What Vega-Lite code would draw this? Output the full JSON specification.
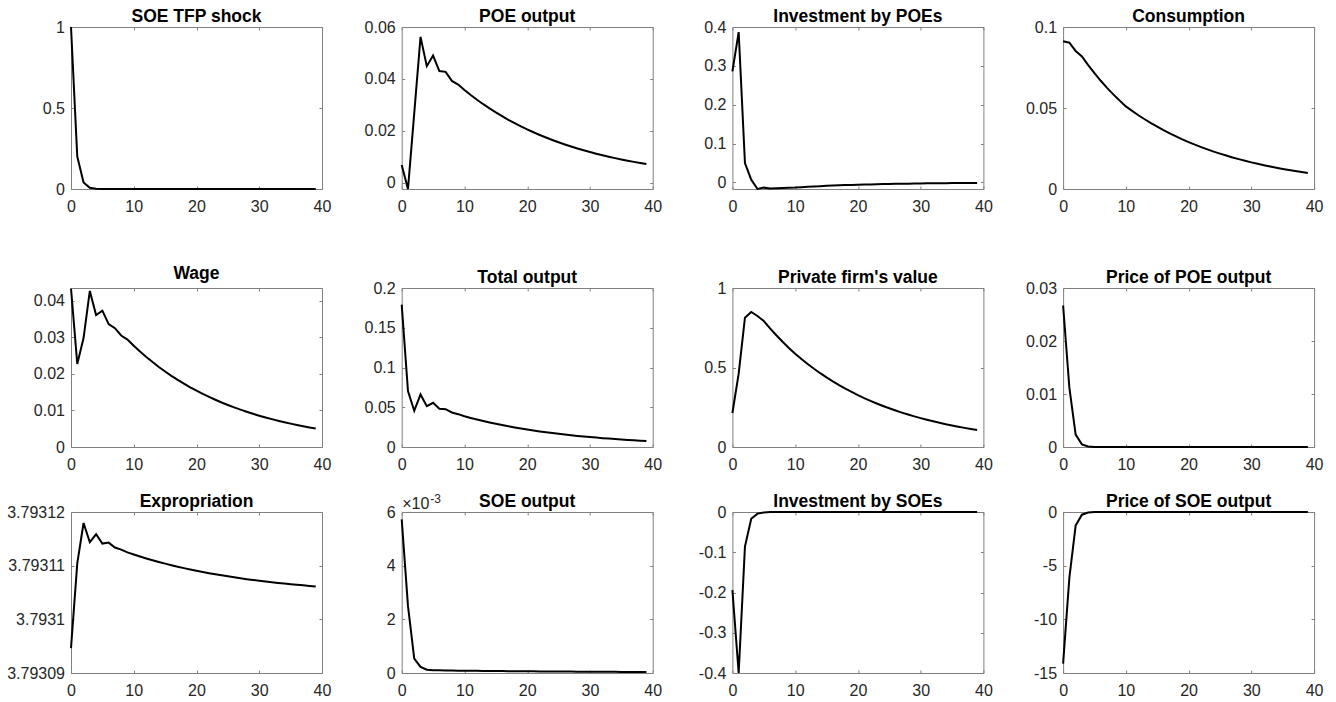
{
"$schema": "https://vega.github.io/schema/vega-lite/v6.json",
"padding": {"left": 6, "top": 7, "right": 5, "bottom": 2},
"background": "white",
"config": {
  "view": {"stroke": "#808080", "strokeWidth": 1},
  "axis": {"domain": false, "domainColor": "#808080", "domainWidth": 1, "grid": false, "tickSize": -3, "tickColor": "#808080", "tickWidth": 1, "labelFont": "Liberation Sans", "labelFontSize": 16, "labelColor": "#262626", "labelFlush": false, "labelOverlap": false},
  "axisX": {"labelPadding": 12},
  "axisY": {"labelPadding": 9.5},
  "title": {"font": "Liberation Sans", "fontSize": 17.5, "fontWeight": "bold", "color": "black", "anchor": "middle", "frame": "group", "offset": -6, "baseline": "alphabetic"},
  "line": {"color": "black", "strokeWidth": 2, "clip": true}
},
"data": {"values": [
{"t":0,"tfp":1,"poe":0.0068,"ipoe":0.286,"cons":0.0912,"wage":0.04336,"yout":0.179,"val":0.214,"ppoe":0.0267,"expr":3.79309464,"soe":0.005725,"isoe":-0.194,"psoe":-14.12},
{"t":1,"tfp":0.2,"poe":-0.0025,"ipoe":0.387,"cons":0.0903,"wage":0.02273,"yout":0.0703,"val":0.461,"ppoe":0.0112,"expr":3.79311041,"soe":0.0025,"isoe":-0.4,"psoe":-6.12},
{"t":2,"tfp":0.04,"poe":0.0268,"ipoe":0.0497,"cons":0.0852,"wage":0.0298,"yout":0.0455,"val":0.813,"ppoe":0.00234,"expr":3.79311795,"soe":0.00054,"isoe":-0.086,"psoe":-1.26},
{"t":3,"tfp":0.008,"poe":0.0562,"ipoe":0.007,"cons":0.0818,"wage":0.0427,"yout":0.0661,"val":0.849,"ppoe":0.0005,"expr":3.79311437,"soe":0.000225,"isoe":-0.017,"psoe":-0.25},
{"t":4,"tfp":0.0016,"poe":0.0449,"ipoe":-0.017,"cons":0.0765,"wage":0.0361,"yout":0.0514,"val":0.824,"ppoe":0.0001,"expr":3.79311585,"soe":0.000125,"isoe":-0.004,"psoe":-0.05},
{"t":5,"tfp":0.00032,"poe":0.049,"ipoe":-0.0135,"cons":0.0715,"wage":0.0373,"yout":0.0556,"val":0.792,"ppoe":0.00002,"expr":3.79311412,"soe":0.000105,"isoe":-0.001,"psoe":-0.01},
{"t":6,"tfp":0.000064,"poe":0.043,"ipoe":-0.016,"cons":0.0668,"wage":0.0336,"yout":0.048,"val":0.746,"ppoe":0.000004,"expr":3.7931143,"soe":0.000098,"isoe":-0.0003,"psoe":-0.002},
{"t":7,"tfp":0.0000128,"poe":0.0427,"ipoe":-0.0148,"cons":0.0624,"wage":0.0325,"yout":0.0476,"val":0.703,"ppoe":0.000001,"expr":3.79311338,"soe":0.000094,"isoe":-0.0001,"psoe":-0.0004},
{"t":8,"tfp":0.0000026,"poe":0.0392,"ipoe":-0.0142,"cons":0.0584,"wage":0.0305,"yout":0.0434,"val":0.662,"ppoe":0,"expr":3.793113,"soe":0.00009,"isoe":0,"psoe":0},
{"t":9,"tfp":0.0000005,"poe":0.0378,"ipoe":-0.0137,"cons":0.0546,"wage":0.0294,"yout":0.0413,"val":0.623,"ppoe":0,"expr":3.79311247,"soe":0.000087,"isoe":0,"psoe":0},
{"t":10,"tfp":0,"poe":0.0357,"ipoe":-0.0132,"cons":0.051,"wage":0.0277,"yout":0.0387,"val":0.587,"ppoe":0,"expr":3.79311208,"soe":0.000084,"isoe":0,"psoe":0},
{"t":11,"tfp":0,"poe":0.03377,"ipoe":-0.0122,"cons":0.0482,"wage":0.02612,"yout":0.03657,"val":0.5535,"ppoe":0,"expr":3.79311171,"soe":0.0000817,"isoe":0,"psoe":0},
{"t":12,"tfp":0,"poe":0.03195,"ipoe":-0.01127,"cons":0.04554,"wage":0.02463,"yout":0.03456,"val":0.5219,"ppoe":0,"expr":3.79311135,"soe":0.0000795,"isoe":0,"psoe":0},
{"t":13,"tfp":0,"poe":0.03022,"ipoe":-0.01041,"cons":0.04304,"wage":0.02323,"yout":0.03266,"val":0.4922,"ppoe":0,"expr":3.79311101,"soe":0.0000773,"isoe":0,"psoe":0},
{"t":14,"tfp":0,"poe":0.02859,"ipoe":-0.00962,"cons":0.04067,"wage":0.0219,"yout":0.03086,"val":0.4642,"ppoe":0,"expr":3.79311069,"soe":0.0000752,"isoe":0,"psoe":0},
{"t":15,"tfp":0,"poe":0.02705,"ipoe":-0.00889,"cons":0.03844,"wage":0.02066,"yout":0.02917,"val":0.4377,"ppoe":0,"expr":3.79311038,"soe":0.0000731,"isoe":0,"psoe":0},
{"t":16,"tfp":0,"poe":0.02559,"ipoe":-0.00821,"cons":0.03632,"wage":0.01948,"yout":0.02756,"val":0.4128,"ppoe":0,"expr":3.79311009,"soe":0.0000711,"isoe":0,"psoe":0},
{"t":17,"tfp":0,"poe":0.0242,"ipoe":-0.00759,"cons":0.03432,"wage":0.01837,"yout":0.02605,"val":0.3892,"ppoe":0,"expr":3.79310981,"soe":0.0000692,"isoe":0,"psoe":0},
{"t":18,"tfp":0,"poe":0.0229,"ipoe":-0.00701,"cons":0.03244,"wage":0.01732,"yout":0.02462,"val":0.3671,"ppoe":0,"expr":3.79310954,"soe":0.0000673,"isoe":0,"psoe":0},
{"t":19,"tfp":0,"poe":0.02166,"ipoe":-0.00648,"cons":0.03065,"wage":0.01633,"yout":0.02326,"val":0.3462,"ppoe":0,"expr":3.79310929,"soe":0.0000654,"isoe":0,"psoe":0},
{"t":20,"tfp":0,"poe":0.02049,"ipoe":-0.00599,"cons":0.02897,"wage":0.0154,"yout":0.02198,"val":0.3264,"ppoe":0,"expr":3.79310905,"soe":0.0000636,"isoe":0,"psoe":0},
{"t":21,"tfp":0,"poe":0.01939,"ipoe":-0.00553,"cons":0.02737,"wage":0.01452,"yout":0.02077,"val":0.3078,"ppoe":0,"expr":3.79310882,"soe":0.0000619,"isoe":0,"psoe":0},
{"t":22,"tfp":0,"poe":0.01834,"ipoe":-0.00511,"cons":0.02587,"wage":0.0137,"yout":0.01963,"val":0.2903,"ppoe":0,"expr":3.7931086,"soe":0.0000602,"isoe":0,"psoe":0},
{"t":23,"tfp":0,"poe":0.01735,"ipoe":-0.00472,"cons":0.02444,"wage":0.01292,"yout":0.01855,"val":0.2737,"ppoe":0,"expr":3.7931084,"soe":0.0000585,"isoe":0,"psoe":0},
{"t":24,"tfp":0,"poe":0.01641,"ipoe":-0.00436,"cons":0.0231,"wage":0.01218,"yout":0.01753,"val":0.2581,"ppoe":0,"expr":3.7931082,"soe":0.0000569,"isoe":0,"psoe":0},
{"t":25,"tfp":0,"poe":0.01552,"ipoe":-0.00403,"cons":0.02183,"wage":0.01149,"yout":0.01657,"val":0.2434,"ppoe":0,"expr":3.79310801,"soe":0.0000554,"isoe":0,"psoe":0},
{"t":26,"tfp":0,"poe":0.01469,"ipoe":-0.00372,"cons":0.02063,"wage":0.01083,"yout":0.01566,"val":0.2295,"ppoe":0,"expr":3.79310783,"soe":0.0000538,"isoe":0,"psoe":0},
{"t":27,"tfp":0,"poe":0.01389,"ipoe":-0.00344,"cons":0.01949,"wage":0.01021,"yout":0.0148,"val":0.2164,"ppoe":0,"expr":3.79310766,"soe":0.0000524,"isoe":0,"psoe":0},
{"t":28,"tfp":0,"poe":0.01314,"ipoe":-0.00318,"cons":0.01842,"wage":0.00963,"yout":0.01398,"val":0.2041,"ppoe":0,"expr":3.79310749,"soe":0.0000509,"isoe":0,"psoe":0},
{"t":29,"tfp":0,"poe":0.01243,"ipoe":-0.00294,"cons":0.01741,"wage":0.00908,"yout":0.01321,"val":0.1925,"ppoe":0,"expr":3.79310734,"soe":0.0000495,"isoe":0,"psoe":0},
{"t":30,"tfp":0,"poe":0.01176,"ipoe":-0.00272,"cons":0.01645,"wage":0.00856,"yout":0.01248,"val":0.1815,"ppoe":0,"expr":3.79310719,"soe":0.0000482,"isoe":0,"psoe":0},
{"t":31,"tfp":0,"poe":0.01113,"ipoe":-0.00251,"cons":0.01555,"wage":0.00808,"yout":0.0118,"val":0.1711,"ppoe":0,"expr":3.79310705,"soe":0.0000469,"isoe":0,"psoe":0},
{"t":32,"tfp":0,"poe":0.01053,"ipoe":-0.00232,"cons":0.01469,"wage":0.00762,"yout":0.01115,"val":0.1614,"ppoe":0,"expr":3.79310692,"soe":0.0000456,"isoe":0,"psoe":0},
{"t":33,"tfp":0,"poe":0.00996,"ipoe":-0.00214,"cons":0.01388,"wage":0.00718,"yout":0.01054,"val":0.1522,"ppoe":0,"expr":3.79310679,"soe":0.0000443,"isoe":0,"psoe":0},
{"t":34,"tfp":0,"poe":0.00942,"ipoe":-0.00198,"cons":0.01312,"wage":0.00677,"yout":0.00996,"val":0.1435,"ppoe":0,"expr":3.79310667,"soe":0.0000431,"isoe":0,"psoe":0},
{"t":35,"tfp":0,"poe":0.00891,"ipoe":-0.00183,"cons":0.0124,"wage":0.00639,"yout":0.00941,"val":0.1353,"ppoe":0,"expr":3.79310655,"soe":0.0000419,"isoe":0,"psoe":0},
{"t":36,"tfp":0,"poe":0.00843,"ipoe":-0.00169,"cons":0.01172,"wage":0.00602,"yout":0.00889,"val":0.1276,"ppoe":0,"expr":3.79310644,"soe":0.0000408,"isoe":0,"psoe":0},
{"t":37,"tfp":0,"poe":0.00797,"ipoe":-0.00156,"cons":0.01107,"wage":0.00568,"yout":0.0084,"val":0.1203,"ppoe":0,"expr":3.79310633,"soe":0.0000396,"isoe":0,"psoe":0},
{"t":38,"tfp":0,"poe":0.00754,"ipoe":-0.00144,"cons":0.01046,"wage":0.00536,"yout":0.00794,"val":0.1135,"ppoe":0,"expr":3.79310623,"soe":0.0000385,"isoe":0,"psoe":0},
{"t":39,"tfp":0,"poe":0.00714,"ipoe":-0.00133,"cons":0.00989,"wage":0.00505,"yout":0.0075,"val":0.107,"ppoe":0,"expr":3.79310614,"soe":0.0000375,"isoe":0,"psoe":0}
]},
"bounds": "flush",
"columns": 4,
"spacing": {"row": 65, "column": 79.7},
"concat": [
  {"width": 251, "height": 196, "title": "SOE TFP shock", "view": {"stroke": null},
   "layer": [
    {"mark": "line", "encoding": {
      "x": {"field": "t", "type": "quantitative", "scale": {"domain": [0, 40], "nice": false, "zero": false}, "axis": {"orient": "bottom", "offset": -34, "domain": true, "values": [0, 10, 20, 30, 40], "title": null}},
      "y": {"field": "tfp", "type": "quantitative", "scale": {"domain": [0, 1], "range": [162, 0], "nice": false, "zero": false}, "axis": {"orient": "left", "domain": true, "values": [0, 0.5, 1], "title": null, "labelExpr": "toString(datum.value)"}}}},
    {"mark": {"type": "line", "opacity": 0}, "encoding": {
      "x": {"field": "t", "type": "quantitative", "axis": {"orient": "top", "domain": true, "values": [0, 10, 20, 30, 40], "labels": false, "title": null}},
      "y": {"field": "tfp", "type": "quantitative", "axis": {"orient": "right", "domain": true, "values": [0, 0.5, 1], "labels": false, "title": null}}}}
   ],
   "resolve": {"axis": {"x": "independent", "y": "independent"}}},
  {"width": 251, "height": 196, "title": "POE output", "view": {"stroke": null},
   "layer": [
    {"mark": "line", "encoding": {
      "x": {"field": "t", "type": "quantitative", "scale": {"domain": [0, 40], "nice": false, "zero": false}, "axis": {"orient": "bottom", "offset": -34, "domain": true, "values": [0, 10, 20, 30, 40], "title": null}},
      "y": {"field": "poe", "type": "quantitative", "scale": {"domain": [-0.0025, 0.06], "range": [162, 0], "nice": false, "zero": false}, "axis": {"orient": "left", "domain": true, "values": [0, 0.02, 0.04, 0.06], "title": null, "labelExpr": "toString(datum.value)"}}}},
    {"mark": {"type": "line", "opacity": 0}, "encoding": {
      "x": {"field": "t", "type": "quantitative", "axis": {"orient": "top", "domain": true, "values": [0, 10, 20, 30, 40], "labels": false, "title": null}},
      "y": {"field": "poe", "type": "quantitative", "axis": {"orient": "right", "domain": true, "values": [0, 0.02, 0.04, 0.06], "labels": false, "title": null}}}}
   ],
   "resolve": {"axis": {"x": "independent", "y": "independent"}}},
  {"width": 251, "height": 196, "title": "Investment by POEs", "view": {"stroke": null},
   "layer": [
    {"mark": "line", "encoding": {
      "x": {"field": "t", "type": "quantitative", "scale": {"domain": [0, 40], "nice": false, "zero": false}, "axis": {"orient": "bottom", "offset": -34, "domain": true, "values": [0, 10, 20, 30, 40], "title": null}},
      "y": {"field": "ipoe", "type": "quantitative", "scale": {"domain": [-0.017, 0.4], "range": [162, 0], "nice": false, "zero": false}, "axis": {"orient": "left", "domain": true, "values": [0, 0.1, 0.2, 0.3, 0.4], "title": null, "labelExpr": "toString(datum.value)"}}}},
    {"mark": {"type": "line", "opacity": 0}, "encoding": {
      "x": {"field": "t", "type": "quantitative", "axis": {"orient": "top", "domain": true, "values": [0, 10, 20, 30, 40], "labels": false, "title": null}},
      "y": {"field": "ipoe", "type": "quantitative", "axis": {"orient": "right", "domain": true, "values": [0, 0.1, 0.2, 0.3, 0.4], "labels": false, "title": null}}}}
   ],
   "resolve": {"axis": {"x": "independent", "y": "independent"}}},
  {"width": 251, "height": 196, "title": "Consumption", "view": {"stroke": null},
   "layer": [
    {"mark": "line", "encoding": {
      "x": {"field": "t", "type": "quantitative", "scale": {"domain": [0, 40], "nice": false, "zero": false}, "axis": {"orient": "bottom", "offset": -34, "domain": true, "values": [0, 10, 20, 30, 40], "title": null}},
      "y": {"field": "cons", "type": "quantitative", "scale": {"domain": [0, 0.1], "range": [162, 0], "nice": false, "zero": false}, "axis": {"orient": "left", "domain": true, "values": [0, 0.05, 0.1], "title": null, "labelExpr": "toString(datum.value)"}}}},
    {"mark": {"type": "line", "opacity": 0}, "encoding": {
      "x": {"field": "t", "type": "quantitative", "axis": {"orient": "top", "domain": true, "values": [0, 10, 20, 30, 40], "labels": false, "title": null}},
      "y": {"field": "cons", "type": "quantitative", "axis": {"orient": "right", "domain": true, "values": [0, 0.05, 0.1], "labels": false, "title": null}}}}
   ],
   "resolve": {"axis": {"x": "independent", "y": "independent"}}},
  {"width": 251, "height": 159, "title": {"text": "Wage", "offset": 2},
   "layer": [
    {"mark": "line", "encoding": {
      "x": {"field": "t", "type": "quantitative", "scale": {"domain": [0, 40], "nice": false, "zero": false}, "axis": {"orient": "bottom", "values": [0, 10, 20, 30, 40], "title": null}},
      "y": {"field": "wage", "type": "quantitative", "scale": {"domain": [0, 0.0435], "nice": false, "zero": false}, "axis": {"orient": "left", "values": [0, 0.01, 0.02, 0.03, 0.04], "title": null, "labelExpr": "toString(datum.value)"}}}},
    {"mark": {"type": "line", "opacity": 0}, "encoding": {
      "x": {"field": "t", "type": "quantitative", "axis": {"orient": "top", "values": [0, 10, 20, 30, 40], "labels": false, "title": null}},
      "y": {"field": "wage", "type": "quantitative", "axis": {"orient": "right", "values": [0, 0.01, 0.02, 0.03, 0.04], "labels": false, "title": null}}}}
   ],
   "resolve": {"axis": {"x": "independent", "y": "independent"}}},
  {"width": 251, "height": 159, "title": "Total output",
   "layer": [
    {"mark": "line", "encoding": {
      "x": {"field": "t", "type": "quantitative", "scale": {"domain": [0, 40], "nice": false, "zero": false}, "axis": {"orient": "bottom", "values": [0, 10, 20, 30, 40], "title": null}},
      "y": {"field": "yout", "type": "quantitative", "scale": {"domain": [0, 0.2], "nice": false, "zero": false}, "axis": {"orient": "left", "values": [0, 0.05, 0.1, 0.15, 0.2], "title": null, "labelExpr": "toString(datum.value)"}}}},
    {"mark": {"type": "line", "opacity": 0}, "encoding": {
      "x": {"field": "t", "type": "quantitative", "axis": {"orient": "top", "values": [0, 10, 20, 30, 40], "labels": false, "title": null}},
      "y": {"field": "yout", "type": "quantitative", "axis": {"orient": "right", "values": [0, 0.05, 0.1, 0.15, 0.2], "labels": false, "title": null}}}}
   ],
   "resolve": {"axis": {"x": "independent", "y": "independent"}}},
  {"width": 251, "height": 159, "title": "Private firm's value",
   "layer": [
    {"mark": "line", "encoding": {
      "x": {"field": "t", "type": "quantitative", "scale": {"domain": [0, 40], "nice": false, "zero": false}, "axis": {"orient": "bottom", "values": [0, 10, 20, 30, 40], "title": null}},
      "y": {"field": "val", "type": "quantitative", "scale": {"domain": [0, 1], "nice": false, "zero": false}, "axis": {"orient": "left", "values": [0, 0.5, 1], "title": null, "labelExpr": "toString(datum.value)"}}}},
    {"mark": {"type": "line", "opacity": 0}, "encoding": {
      "x": {"field": "t", "type": "quantitative", "axis": {"orient": "top", "values": [0, 10, 20, 30, 40], "labels": false, "title": null}},
      "y": {"field": "val", "type": "quantitative", "axis": {"orient": "right", "values": [0, 0.5, 1], "labels": false, "title": null}}}}
   ],
   "resolve": {"axis": {"x": "independent", "y": "independent"}}},
  {"width": 251, "height": 159, "title": "Price of POE output",
   "layer": [
    {"mark": "line", "encoding": {
      "x": {"field": "t", "type": "quantitative", "scale": {"domain": [0, 40], "nice": false, "zero": false}, "axis": {"orient": "bottom", "values": [0, 10, 20, 30, 40], "title": null}},
      "y": {"field": "ppoe", "type": "quantitative", "scale": {"domain": [0, 0.03], "nice": false, "zero": false}, "axis": {"orient": "left", "values": [0, 0.01, 0.02, 0.03], "title": null, "labelExpr": "toString(datum.value)"}}}},
    {"mark": {"type": "line", "opacity": 0}, "encoding": {
      "x": {"field": "t", "type": "quantitative", "axis": {"orient": "top", "values": [0, 10, 20, 30, 40], "labels": false, "title": null}},
      "y": {"field": "ppoe", "type": "quantitative", "axis": {"orient": "right", "values": [0, 0.01, 0.02, 0.03], "labels": false, "title": null}}}}
   ],
   "resolve": {"axis": {"x": "independent", "y": "independent"}}},
  {"width": 251, "height": 161, "title": "Expropriation",
   "layer": [
    {"mark": "line", "encoding": {
      "x": {"field": "t", "type": "quantitative", "scale": {"domain": [0, 40], "nice": false, "zero": false}, "axis": {"orient": "bottom", "values": [0, 10, 20, 30, 40], "title": null}},
      "y": {"field": "expr", "type": "quantitative", "scale": {"domain": [3.79309, 3.79312], "nice": false, "zero": false}, "axis": {"orient": "left", "values": [3.79309, 3.7931, 3.79311, 3.79312], "title": null, "labelExpr": "toString(datum.value)"}}}},
    {"mark": {"type": "line", "opacity": 0}, "encoding": {
      "x": {"field": "t", "type": "quantitative", "axis": {"orient": "top", "values": [0, 10, 20, 30, 40], "labels": false, "title": null}},
      "y": {"field": "expr", "type": "quantitative", "axis": {"orient": "right", "values": [3.79309, 3.7931, 3.79311, 3.79312], "labels": false, "title": null}}}}
   ],
   "resolve": {"axis": {"x": "independent", "y": "independent"}}},
  {"width": 251, "height": 161, "title": {"text": "SOE output", "offset": -18},
   "layer": [
    {"mark": "line", "encoding": {
      "x": {"field": "t", "type": "quantitative", "scale": {"domain": [0, 40], "nice": false, "zero": false}, "axis": {"orient": "bottom", "values": [0, 10, 20, 30, 40], "title": null}},
      "y": {"field": "soe", "type": "quantitative", "scale": {"domain": [0, 0.006], "nice": false, "zero": false}, "axis": {"orient": "left", "values": [0, 0.002, 0.004, 0.006], "labelExpr": "toString(round(datum.value*1000))", "title": "×10", "titleAngle": 0, "titleX": 0, "titleY": -4, "titleAlign": "left", "titleBaseline": "alphabetic", "titleFont": "Liberation Sans", "titleFontSize": 16, "titleFontWeight": "normal", "titleColor": "#262626"}}}},
    {"mark": {"type": "line", "opacity": 0}, "encoding": {
      "x": {"field": "t", "type": "quantitative", "axis": {"orient": "top", "values": [0, 10, 20, 30, 40], "labels": false, "title": null}},
      "y": {"field": "soe", "type": "quantitative", "axis": {"orient": "right", "values": [0, 0.002, 0.004, 0.006], "labels": false, "title": "-3", "titleAngle": 0, "titleX": -223, "titleY": -10, "titleAlign": "left", "titleBaseline": "alphabetic", "titleFont": "Liberation Sans", "titleFontSize": 12, "titleFontWeight": "normal", "titleColor": "#262626"}}}}
   ],
   "resolve": {"axis": {"x": "independent", "y": "independent"}}},
  {"width": 251, "height": 161, "title": "Investment by SOEs",
   "layer": [
    {"mark": "line", "encoding": {
      "x": {"field": "t", "type": "quantitative", "scale": {"domain": [0, 40], "nice": false, "zero": false}, "axis": {"orient": "bottom", "values": [0, 10, 20, 30, 40], "title": null}},
      "y": {"field": "isoe", "type": "quantitative", "scale": {"domain": [-0.4, 0], "nice": false, "zero": false}, "axis": {"orient": "left", "values": [-0.4, -0.3, -0.2, -0.1, 0], "title": null, "labelExpr": "toString(datum.value)"}}}},
    {"mark": {"type": "line", "opacity": 0}, "encoding": {
      "x": {"field": "t", "type": "quantitative", "axis": {"orient": "top", "values": [0, 10, 20, 30, 40], "labels": false, "title": null}},
      "y": {"field": "isoe", "type": "quantitative", "axis": {"orient": "right", "values": [-0.4, -0.3, -0.2, -0.1, 0], "labels": false, "title": null}}}}
   ],
   "resolve": {"axis": {"x": "independent", "y": "independent"}}},
  {"width": 251, "height": 161, "title": "Price of SOE output",
   "layer": [
    {"mark": "line", "encoding": {
      "x": {"field": "t", "type": "quantitative", "scale": {"domain": [0, 40], "nice": false, "zero": false}, "axis": {"orient": "bottom", "values": [0, 10, 20, 30, 40], "title": null}},
      "y": {"field": "psoe", "type": "quantitative", "scale": {"domain": [-15, 0], "nice": false, "zero": false}, "axis": {"orient": "left", "values": [-15, -10, -5, 0], "title": null, "labelExpr": "toString(datum.value)"}}}},
    {"mark": {"type": "line", "opacity": 0}, "encoding": {
      "x": {"field": "t", "type": "quantitative", "axis": {"orient": "top", "values": [0, 10, 20, 30, 40], "labels": false, "title": null}},
      "y": {"field": "psoe", "type": "quantitative", "axis": {"orient": "right", "values": [-15, -10, -5, 0], "labels": false, "title": null}}}}
   ],
   "resolve": {"axis": {"x": "independent", "y": "independent"}}}
]
}
